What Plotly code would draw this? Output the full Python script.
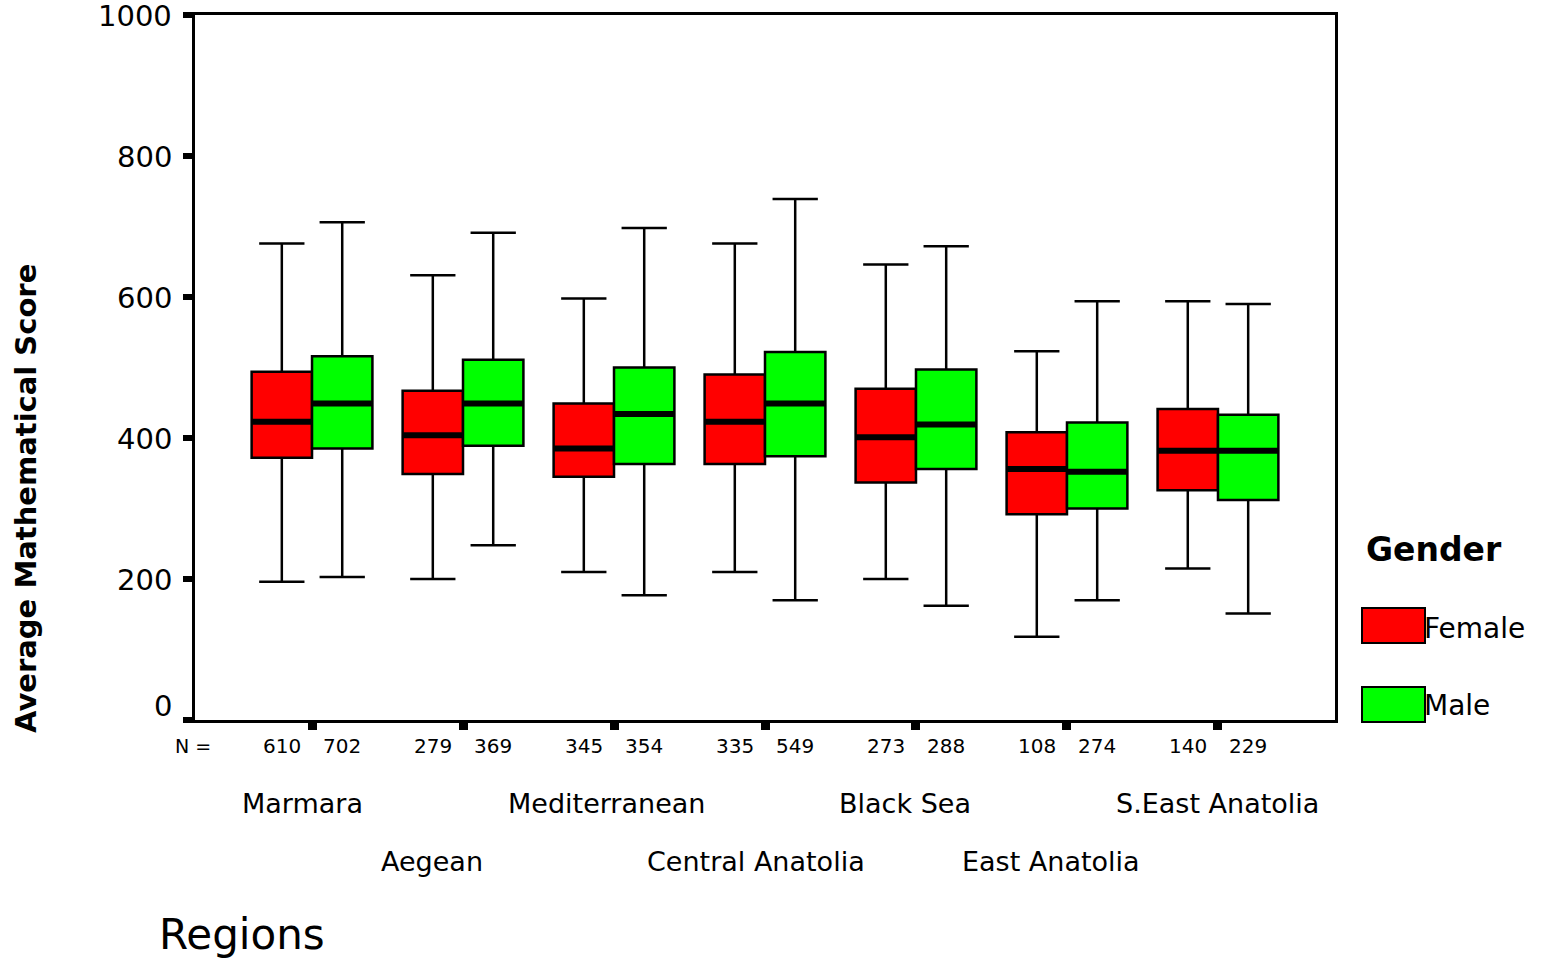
import plotly.graph_objects as go

# ---------------- data ----------------
regions = ["Marmara", "Aegean", "Mediterranean", "Central Anatolia",
           "Black Sea", "East Anatolia", "S.East Anatolia"]
n_female = [610, 279, 345, 335, 273, 108, 140]
n_male = [702, 369, 354, 549, 288, 274, 229]

f_low = [196, 200, 210, 210, 200, 118, 215]
f_q1 = [372, 349, 345, 363, 337, 292, 326]
f_med = [423, 404, 385, 423, 401, 356, 382]
f_q3 = [494, 467, 449, 490, 470, 408, 441]
f_high = [676, 631, 598, 676, 646, 523, 594]

m_low = [203, 248, 177, 170, 162, 170, 151]
m_q1 = [385, 389, 363, 374, 356, 300, 312]
m_med = [449, 449, 434, 449, 419, 352, 382]
m_q3 = [516, 511, 500, 522, 497, 422, 433]
m_high = [706, 691, 698, 739, 672, 594, 590]

yticks = [0, 200, 400, 600, 800, 1000]

# ---------------- geometry helpers ----------------
W, H = 1547, 961
L, R, T, B = 195, 1335, 15, 720
def px(xp):
    return (xp - L) / (R - L)
def py(yp):
    return (B - yp) / (B - T)

idx = list(range(len(regions)))
off = 0.2
bw = 0.4
xf = [k - off for k in idx]
xm = [k + off for k in idx]
label_shift = [-10, -31, -8, -9, -11, -16, 0]

RED = "#FF0000"
GREEN = "#00FF00"
FONT = "DejaVu Sans"

fig = go.Figure()

for xs, lo, q1, md, q3, hi, col in [
    (xf, f_low, f_q1, f_med, f_q3, f_high, RED),
    (xm, m_low, m_q1, m_med, m_q3, m_high, GREEN),
]:
    fig.add_trace(go.Box(
        x=xs, q1=q1, median=md, q3=q3, lowerfence=lo, upperfence=hi,
        width=bw, whiskerwidth=0.75, fillcolor=col,
        line=dict(color="black", width=2.5), boxpoints=False,
        showlegend=False, hoverinfo="skip",
    ))
    mx, my = [], []
    for x, m in zip(xs, md):
        mx += [x - bw / 2, x + bw / 2, None]
        my += [m, m, None]
    fig.add_trace(go.Scatter(x=mx, y=my, mode="lines",
                             line=dict(color="black", width=6),
                             showlegend=False, hoverinfo="skip"))

ann = []
# y tick labels
for v in yticks:
    ann.append(dict(text=str(v), xref="paper", yref="y", x=0, y=v,
                    xshift=-21, yshift=(14 if v == 0 else -1), showarrow=False,
                    xanchor="right", yanchor="middle",
                    font=dict(family=FONT, size=29, color="black")))
# N labels
ann.append(dict(text="N =", xref="paper", yref="paper", x=px(193), y=0,
                yshift=-26, showarrow=False, xanchor="center", yanchor="middle",
                font=dict(family=FONT, size=19, color="black")))
for k in idx:
    for x, n in [(xf[k], n_female[k]), (xm[k], n_male[k])]:
        ann.append(dict(text=str(n), xref="x", yref="paper", x=x, y=0,
                        yshift=-26, showarrow=False, xanchor="center",
                        yanchor="middle",
                        font=dict(family=FONT, size=20, color="black")))
# region labels in two staggered rows
for k, name in enumerate(regions):
    ys = -83 if k % 2 == 0 else -141
    ann.append(dict(text=name, xref="x", yref="paper", x=k, y=0, yshift=ys,
                    xshift=label_shift[k],
                    showarrow=False, xanchor="center", yanchor="middle",
                    font=dict(family=FONT, size=27, color="black")))
# axis titles
ann.append(dict(text="Regions", xref="paper", yref="paper", x=px(242), y=0,
                yshift=-214, showarrow=False, xanchor="center", yanchor="middle",
                font=dict(family=FONT, size=42, color="black")))
ann.append(dict(text="<b>Average Mathematical Score</b>", xref="paper",
                yref="paper", x=px(26), y=py(499), textangle=-90,
                showarrow=False, xanchor="center", yanchor="middle",
                font=dict(family=FONT, size=29, color="black")))
# legend
ann.append(dict(text="<b>Gender</b>", xref="paper", yref="paper", x=px(1364),
                y=py(549), showarrow=False, xanchor="left", yanchor="middle",
                font=dict(family=FONT, size=33, color="black")))
ann.append(dict(text="Female", xref="paper", yref="paper", x=px(1422),
                y=py(628), showarrow=False, xanchor="left", yanchor="middle",
                font=dict(family=FONT, size=28, color="black")))
ann.append(dict(text="Male", xref="paper", yref="paper", x=px(1422),
                y=py(705), showarrow=False, xanchor="left", yanchor="middle",
                font=dict(family=FONT, size=28, color="black")))

shapes = [
    dict(type="rect", xref="paper", yref="paper", x0=px(1362), x1=px(1425),
         y0=py(643), y1=py(608), fillcolor=RED, line=dict(color="black", width=2)),
    dict(type="rect", xref="paper", yref="paper", x0=px(1362), x1=px(1425),
         y0=py(722), y1=py(687), fillcolor=GREEN, line=dict(color="black", width=2)),
]

fig.update_layout(
    width=W, height=H,
    margin=dict(l=L, r=W - R, t=T, b=H - B),
    paper_bgcolor="white", plot_bgcolor="white",
    boxmode="overlay", showlegend=False,
    annotations=ann, shapes=shapes,
    xaxis=dict(range=[-0.775, 6.775], tickvals=idx, ticktext=[""] * len(idx),
               ticks="outside", ticklen=7, tickwidth=9, tickcolor="black",
               showline=True, linecolor="black", linewidth=3, mirror=True,
               showgrid=False, zeroline=False, fixedrange=True),
    yaxis=dict(range=[0, 1000], tickvals=yticks, ticktext=[""] * len(yticks),
               ticks="outside", ticklen=9, tickwidth=6, tickcolor="black",
               showline=True, linecolor="black", linewidth=3, mirror=True,
               showgrid=False, zeroline=False, fixedrange=True),
)

fig.write_html("out.html", config={"displayModeBar": False},
               post_script="document.body.style.margin='0';document.body.style.overflow='hidden';")
